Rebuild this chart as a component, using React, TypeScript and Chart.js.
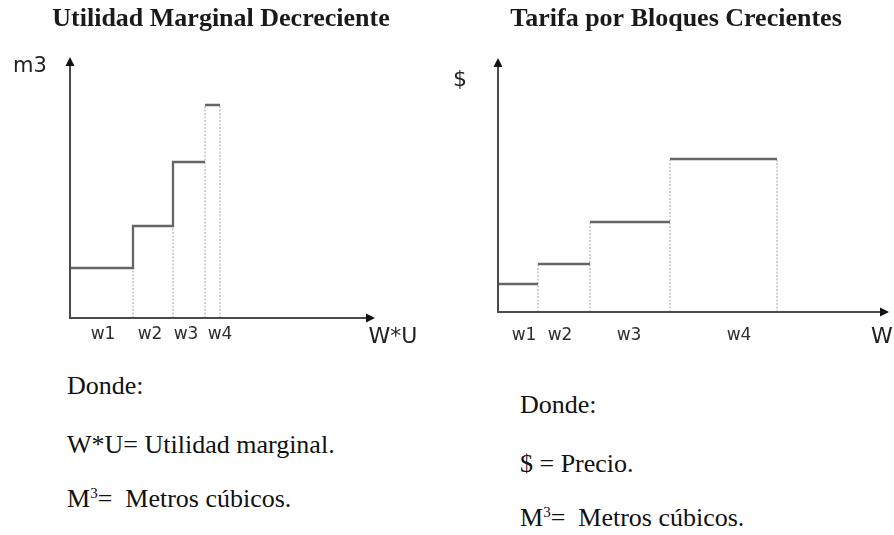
import React, { useEffect, useRef } from "react";
import { Chart, registerables } from "chart.js";

Chart.register(...registerables);

// ---------- Left chart: Utilidad Marginal Decreciente ----------
const leftTitle = "Utilidad Marginal Decreciente";
const leftBlockEdges = [0, 63, 103, 135, 150];
const leftBlockLevels = [50, 92, 156, 213];
const leftSolidRisers = [1, 2];
const leftTickValues = [33, 80, 116, 150];
const leftTickLabels = ["w1", "w2", "w3", "w4"];
const leftXAxisEnd = 305;
const leftYAxisEnd = 261;
const leftXName = "W*U";
const leftYName = "m3";

// ---------- Right chart: Tarifa por Bloques Crecientes ----------
const rightTitle = "Tarifa por Bloques Crecientes";
const rightBlockEdges = [0, 40, 92, 172, 279];
const rightBlockLevels = [28, 48, 90, 153];
const rightSolidRisers: number[] = [];
const rightTickValues = [26, 62, 131, 241];
const rightTickLabels = ["w1", "w2", "w3", "w4"];
const rightXAxisEnd = 391;
const rightYAxisEnd = 254;
const rightXName = "W";
const rightYName = "$";

// ---------- Notes ----------
const leftNotes = ["Donde:", "W*U= Utilidad marginal.", "Metros cúbicos."];
const rightNotes = ["Donde:", "$ = Precio.", "Metros cúbicos."];

type Pt = { x: number; y: number | null };

function buildSteps(edges: number[], levels: number[], solid: number[]): Pt[] {
  const pts: Pt[] = [];
  levels.forEach((lv, i) => {
    if (i > 0 && !solid.includes(i)) pts.push({ x: edges[i], y: null });
    pts.push({ x: edges[i], y: lv }, { x: edges[i + 1], y: lv });
  });
  return pts;
}

function buildGuides(edges: number[], levels: number[]): Pt[] {
  const pts: Pt[] = [];
  for (let i = 1; i < edges.length; i++) {
    const top = Math.max(levels[i - 1], levels[i] ?? 0);
    pts.push({ x: edges[i], y: 0 }, { x: edges[i], y: top }, { x: edges[i], y: null });
  }
  return pts;
}

const arrowAxesPlugin = {
  id: "arrowAxes",
  afterDatasetsDraw(chart: any, _args: any, opts: any) {
    const { ctx } = chart;
    const xs = chart.scales.x;
    const ys = chart.scales.y;
    const x0 = xs.getPixelForValue(0);
    const y0 = ys.getPixelForValue(0);
    const xEnd = xs.getPixelForValue(opts.xEnd);
    const yEnd = ys.getPixelForValue(opts.yEnd);
    ctx.save();
    ctx.strokeStyle = "#4a4a4a";
    ctx.lineWidth = 2;
    ctx.lineCap = "butt";
    ctx.beginPath();
    ctx.moveTo(x0, y0);
    ctx.lineTo(xEnd - 6, y0);
    ctx.moveTo(x0, y0 + 1);
    ctx.lineTo(x0, yEnd + 6);
    ctx.stroke();
    ctx.fillStyle = "#111";
    ctx.beginPath();
    ctx.moveTo(xEnd, y0);
    ctx.lineTo(xEnd - 9, y0 - 4.5);
    ctx.lineTo(xEnd - 9, y0 + 4.5);
    ctx.closePath();
    ctx.fill();
    ctx.beginPath();
    ctx.moveTo(x0, yEnd);
    ctx.lineTo(x0 - 4.5, yEnd + 9);
    ctx.lineTo(x0 + 4.5, yEnd + 9);
    ctx.closePath();
    ctx.fill();
    ctx.fillStyle = "#222";
    ctx.textAlign = "center";
    ctx.textBaseline = "middle";
    ctx.font = `${opts.xNameSize}px "DejaVu Sans", sans-serif`;
    ctx.fillText(opts.xName, xEnd + opts.xNameDx, y0 + opts.xNameDy);
    ctx.font = `${opts.yNameSize}px "DejaVu Sans", sans-serif`;
    ctx.fillText(opts.yName, x0 + opts.yNameDx, yEnd + opts.yNameDy);
    ctx.restore();
  },
};

function makeConfig(p: any): any {
  return {
    type: "line",
    data: {
      datasets: [
        {
          data: buildSteps(p.edges, p.levels, p.solid),
          borderColor: "#666666",
          borderWidth: 2.3,
          pointRadius: 0,
          fill: false,
          tension: 0,
          spanGaps: false,
          borderJoinStyle: "miter",
          order: 1,
        },
        {
          data: buildGuides(p.edges, p.levels),
          borderColor: "#c2c2c2",
          borderWidth: 1.5,
          borderDash: [2, 1.5],
          pointRadius: 0,
          fill: false,
          tension: 0,
          spanGaps: false,
          order: 2,
        },
      ],
    },
    options: {
      responsive: false,
      animation: false,
      events: [],
      layout: { padding: p.padding },
      plugins: {
        legend: { display: false },
        tooltip: { enabled: false },
        title: {
          display: true,
          text: p.title,
          color: "#1a1a1a",
          font: { family: '"Liberation Serif", "Times New Roman", serif', size: 26, weight: "bold" },
          padding: { top: 4, bottom: p.titleBottom },
        },
        arrowAxes: {
          xEnd: p.xEnd,
          yEnd: p.yEnd,
          xName: p.xName,
          yName: p.yName,
          xNameDx: p.xNameDx,
          xNameDy: p.xNameDy,
          yNameDx: p.yNameDx,
          yNameDy: p.yNameDy,
          xNameSize: p.xNameSize,
          yNameSize: p.yNameSize,
        },
      },
      scales: {
        x: {
          type: "linear",
          min: 0,
          max: p.xMax,
          grid: { display: false, drawTicks: false },
          border: { display: false },
          afterBuildTicks: (s: any) => {
            s.ticks = p.tickValues.map((v: number) => ({ value: v }));
          },
          ticks: {
            autoSkip: false,
            maxRotation: 0,
            padding: p.tickPadding,
            color: "#2e2e2e",
            font: { family: '"DejaVu Sans", sans-serif', size: 17 },
            callback: (_v: any, i: number) => p.tickLabels[i],
          },
        },
        y: {
          type: "linear",
          min: 0,
          max: p.yEnd,
          grid: { display: false, drawTicks: false },
          border: { display: false },
          ticks: { display: false },
          afterFit: (s: any) => {
            s.width = p.yWidth;
          },
        },
      },
    },
    plugins: [arrowAxesPlugin],
  };
}

const noteStyle: React.CSSProperties = {
  position: "absolute",
  fontFamily: '"Liberation Serif", "Times New Roman", serif',
  fontSize: 26,
  lineHeight: "26px",
  color: "#111",
  whiteSpace: "pre",
  margin: 0,
};

function Cubic({ text }: { text: string }) {
  return (
    <>
      M<span style={{ fontSize: 15, position: "relative", top: -9 }}>3</span>{"=  " + text}
    </>
  );
}

export default function App() {
  const leftRef = useRef<HTMLCanvasElement>(null);
  const rightRef = useRef<HTMLCanvasElement>(null);

  useEffect(() => {
    const left = new Chart(
      leftRef.current as HTMLCanvasElement,
      makeConfig({
        title: leftTitle,
        edges: leftBlockEdges,
        levels: leftBlockLevels,
        solid: leftSolidRisers,
        tickValues: leftTickValues,
        tickLabels: leftTickLabels,
        xEnd: leftXAxisEnd,
        yEnd: leftYAxisEnd,
        xMax: 372,
        xName: leftXName,
        yName: leftYName,
        xNameDx: 18,
        xNameDy: 19,
        yNameDx: -40,
        yNameDy: 10,
        xNameSize: 22,
        yNameSize: 21,
        padding: { left: 0, right: 5, top: 0, bottom: 9.6 },
        titleBottom: 21.8,
        tickPadding: 6,
        yWidth: 70,
      })
    );
    const right = new Chart(
      rightRef.current as HTMLCanvasElement,
      makeConfig({
        title: rightTitle,
        edges: rightBlockEdges,
        levels: rightBlockLevels,
        solid: rightSolidRisers,
        tickValues: rightTickValues,
        tickLabels: rightTickLabels,
        xEnd: rightXAxisEnd,
        yEnd: rightYAxisEnd,
        xMax: 396,
        xName: rightXName,
        yName: rightYName,
        xNameDx: -7,
        xNameDy: 25,
        yNameDx: -38,
        yNameDy: 22,
        xNameSize: 22,
        yNameSize: 22,
        padding: { left: 11, right: 0, top: 0, bottom: 1.6 },
        titleBottom: 22.8,
        tickPadding: 13,
        yWidth: 40,
      })
    );
    return () => {
      left.destroy();
      right.destroy();
    };
  }, []);

  return (
    <div
      style={{
        position: "absolute",
        left: 0,
        top: 0,
        width: 894,
        height: 535,
        background: "#fff",
        overflow: "hidden",
      }}
    >
      <canvas
        ref={leftRef}
        width={447}
        height={360}
        style={{ position: "absolute", left: 0, top: 0, width: 447, height: 360 }}
      />
      <canvas
        ref={rightRef}
        width={447}
        height={360}
        style={{ position: "absolute", left: 447, top: 0, width: 447, height: 360 }}
      />
      <div style={{ ...noteStyle, left: 67, top: 373 }}>{leftNotes[0]}</div>
      <div style={{ ...noteStyle, left: 67, top: 432 }}>{leftNotes[1]}</div>
      <div style={{ ...noteStyle, left: 67, top: 486 }}>
        <Cubic text={leftNotes[2]} />
      </div>
      <div style={{ ...noteStyle, left: 520, top: 392 }}>{rightNotes[0]}</div>
      <div style={{ ...noteStyle, left: 520, top: 451 }}>{rightNotes[1]}</div>
      <div style={{ ...noteStyle, left: 520, top: 505 }}>
        <Cubic text={rightNotes[2]} />
      </div>
    </div>
  );
}
